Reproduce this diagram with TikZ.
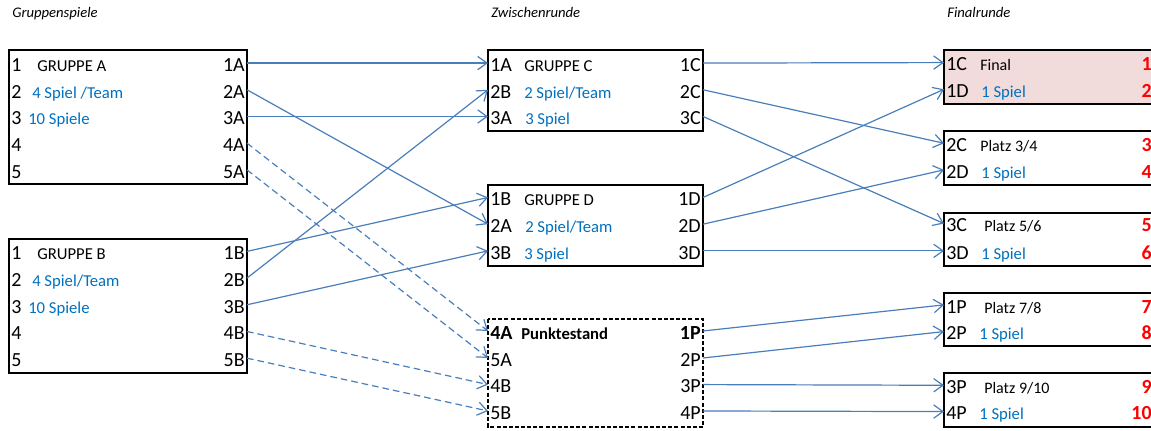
\documentclass[tikz,border=0pt]{standalone}
\usepackage{fontspec}
\setmainfont{Carlito}
\usepackage{xcolor}
\usetikzlibrary{arrows.meta}

\definecolor{lineblue}{HTML}{4A7EBB}
\definecolor{noteblue}{HTML}{0070C0}
\definecolor{finalfill}{HTML}{F2DCDB}

\tikzset{
  port/.style={inner sep=1.5pt, text height=12.5pt, text depth=0pt, font=\fontsize{15}{18}\selectfont},
  inport/.style={port, anchor=base west},
  outport/.style={port, anchor=base east},
  head/.style={anchor=base west, inner sep=0pt, font=\fontsize{12.5}{15}\selectfont},
  note/.style={head, text=noteblue},
  place/.style={head, font=\fontsize{12}{14}\selectfont},
  title/.style={anchor=base west, inner sep=0pt, font=\fontsize{11}{13}\selectfont\itshape},
  rank/.style={anchor=base east, inner sep=0pt, text=red, font=\fontsize{15}{18}\selectfont\bfseries},
  box/.style={draw=black, line width=1.3pt},
  link/.style={draw=lineblue, line width=0.9pt, -{Straight Barb[length=7pt,width=10pt]}},
  dlink/.style={link, dash pattern=on 5pt off 3pt},
}

\begin{document}
\begin{tikzpicture}[x=0.75pt,y=0.75pt,yscale=-1,xscale=1]
\useasboundingbox (0,0) rectangle (1151,430);
\clip (0,0) rectangle (1151,430);

% titles
\node [title] (tGruppen) at (12,17) {Gruppenspiele};
\node [title] (tZwischen) at (491,17) {Zwischenrunde};
\node [title] (tFinal) at (947,17) {Finalrunde};

% boxes
\draw [box] (9,50) rectangle (247,184);
\draw [box] (9,239) rectangle (247,373);
\draw [box] (488,50) rectangle (703,131);
\draw [box] (488,185) rectangle (703,266);
\draw [box, dash pattern=on 3pt off 1.6pt] (488,319) rectangle (703,427);
\draw [box, fill=finalfill] (944,50) rectangle (1160,104);
\draw [box] (944,131) rectangle (1160,185);
\draw [box] (944,213) rectangle (1160,266);
\draw [box] (944,293) rectangle (1160,346);
\draw [box] (944,373) rectangle (1160,427);

% Gruppe A
\node [inport] (aN1) at (9,71.4) {1};
\node [inport] (aN2) at (9,98.1) {2};
\node [inport] (aN3) at (9,124.8) {3};
\node [inport] (aN4) at (9,151.5) {4};
\node [inport] (aN5) at (9,178.2) {5};
\node [head] (aHead) at (37,71.4) {GRUPPE A};
\node [note] (aNote1) at (32,98.1) {4 Spiel /Team};
\node [note] (aNote2) at (28,124.8) {10 Spiele};
\node [outport] (a1) at (247,71.4) {1A};
\node [outport] (a2) at (247,98.1) {2A};
\node [outport] (a3) at (247,124.8) {3A};
\node [outport] (a4) at (247,151.5) {4A};
\node [outport] (a5) at (247,178.2) {5A};

% Gruppe B
\node [inport] (bN1) at (9,259.7) {1};
\node [inport] (bN2) at (9,286.4) {2};
\node [inport] (bN3) at (9,313.1) {3};
\node [inport] (bN4) at (9,339.8) {4};
\node [inport] (bN5) at (9,366.5) {5};
\node [head] (bHead) at (37,259.7) {GRUPPE B};
\node [note] (bNote1) at (32,286.4) {4 Spiel/Team};
\node [note] (bNote2) at (28,313.1) {10 Spiele};
\node [outport] (b1) at (247,259.7) {1B};
\node [outport] (b2) at (247,286.4) {2B};
\node [outport] (b3) at (247,313.1) {3B};
\node [outport] (b4) at (247,339.8) {4B};
\node [outport] (b5) at (247,366.5) {5B};

% Gruppe C
\node [inport] (cIn1) at (488,71.4) {1A};
\node [inport] (cIn2) at (488,98.1) {2B};
\node [inport] (cIn3) at (488,124.8) {3A};
\node [head] (cHead) at (524,71.4) {GRUPPE C};
\node [note] (cNote1) at (524,98.1) {2 Spiel/Team};
\node [note] (cNote2) at (525,124.8) {3 Spiel};
\node [outport] (cOut1) at (703,71.4) {1C};
\node [outport] (cOut2) at (703,98.1) {2C};
\node [outport] (cOut3) at (703,124.8) {3C};

% Gruppe D
\node [inport] (dIn1) at (488,205.8) {1B};
\node [inport] (dIn2) at (488,232.5) {2A};
\node [inport] (dIn3) at (488,259.2) {3B};
\node [head] (dHead) at (524,205.8) {GRUPPE D};
\node [note] (dNote1) at (525,232.5) {2 Spiel/Team};
\node [note] (dNote2) at (524,259.2) {3 Spiel};
\node [outport] (dOut1) at (703,205.8) {1D};
\node [outport] (dOut2) at (703,232.5) {2D};
\node [outport] (dOut3) at (703,259.2) {3D};

% Punktestand
\node [inport, font=\fontsize{15}{18}\selectfont\bfseries] (pIn1) at (488,339.3) {4A};
\node [inport] (pIn2) at (488,366.3) {5A};
\node [inport] (pIn3) at (488,392.9) {4B};
\node [inport] (pIn4) at (488,419.3) {5B};
\node [head, font=\fontsize{12.5}{15}\selectfont\bfseries] (pHead) at (521,339.3) {Punktestand};
\node [outport, font=\fontsize{15}{18}\selectfont\bfseries] (pOut1) at (703,339.3) {1P};
\node [outport] (pOut2) at (703,366.3) {2P};
\node [outport] (pOut3) at (703,392.9) {3P};
\node [outport] (pOut4) at (703,419.3) {4P};

% Finalrunde
\node [inport] (r1) at (944,70.9) {1C};
\node [inport] (r2) at (944,97.6) {1D};
\node [place] (fHead1) at (980,70.9) {Final};
\node [note] (fNote1) at (981,97.6) {1 Spiel};
\node [rank] (rank1) at (1152,70.9) {1};
\node [rank] (rank2) at (1152,97.6) {2};

\node [inport] (r3) at (944,151.6) {2C};
\node [inport] (r4) at (944,178.2) {2D};
\node [place] (fHead2) at (980,151.6) {Platz 3/4};
\node [note] (fNote2) at (981,178.2) {1 Spiel};
\node [rank] (rank3) at (1152,151.6) {3};
\node [rank] (rank4) at (1152,178.2) {4};

\node [inport] (r5) at (944,231.9) {3C};
\node [inport] (r6) at (944,259.2) {3D};
\node [place] (fHead3) at (984,231.9) {Platz 5/6};
\node [note] (fNote3) at (981,259.2) {1 Spiel};
\node [rank] (rank5) at (1152,231.9) {5};
\node [rank] (rank6) at (1152,259.2) {6};

\node [inport] (r7) at (944,313.2) {1P};
\node [inport] (r8) at (944,339.9) {2P};
\node [place] (fHead4) at (984,313.2) {Platz 7/8};
\node [note] (fNote4) at (979,339.9) {1 Spiel};
\node [rank] (rank7) at (1152,313.2) {7};
\node [rank] (rank8) at (1152,339.9) {8};

\node [inport] (r9) at (944,393.6) {3P};
\node [inport] (r10) at (944,419.9) {4P};
\node [place] (fHead5) at (984,393.6) {Platz 9/10};
\node [note] (fNote5) at (979,419.9) {1 Spiel};
\node [rank] (rank9) at (1152,393.6) {9};
\node [rank] (rank10) at (1152,419.9) {10};

% Gruppenspiele -> Zwischenrunde
\draw [link] (a1.east) -- (cIn1.west);
\draw [link] (a2.east) -- (dIn2.west);
\draw [link] (a3.east) -- (cIn3.west);
\draw [dlink] (a4.east) -- (pIn1.west);
\draw [dlink] (a5.east) -- (pIn2.west);
\draw [link] (b1.east) -- (dIn1.west);
\draw [link] (b2.east) -- (cIn2.west);
\draw [link] (b3.east) -- (dIn3.west);
\draw [dlink] (b4.east) -- (pIn3.west);
\draw [dlink] (b5.east) -- (pIn4.west);

% Zwischenrunde -> Finalrunde
\draw [link] (cOut1.east) -- (r1.west);
\draw [link] (cOut2.east) -- (r3.west);
\draw [link] (cOut3.east) -- (r5.west);
\draw [link] (dOut1.east) -- (r2.west);
\draw [link] (dOut2.east) -- (r4.west);
\draw [link] (dOut3.east) -- (r6.west);
\draw [link] (pOut1.east) -- (r7.west);
\draw [link] (pOut2.east) -- (r8.west);
\draw [link] (pOut3.east) -- (r9.west);
\draw [link] (pOut4.east) -- (r10.west);
\end{tikzpicture}
\end{document}
